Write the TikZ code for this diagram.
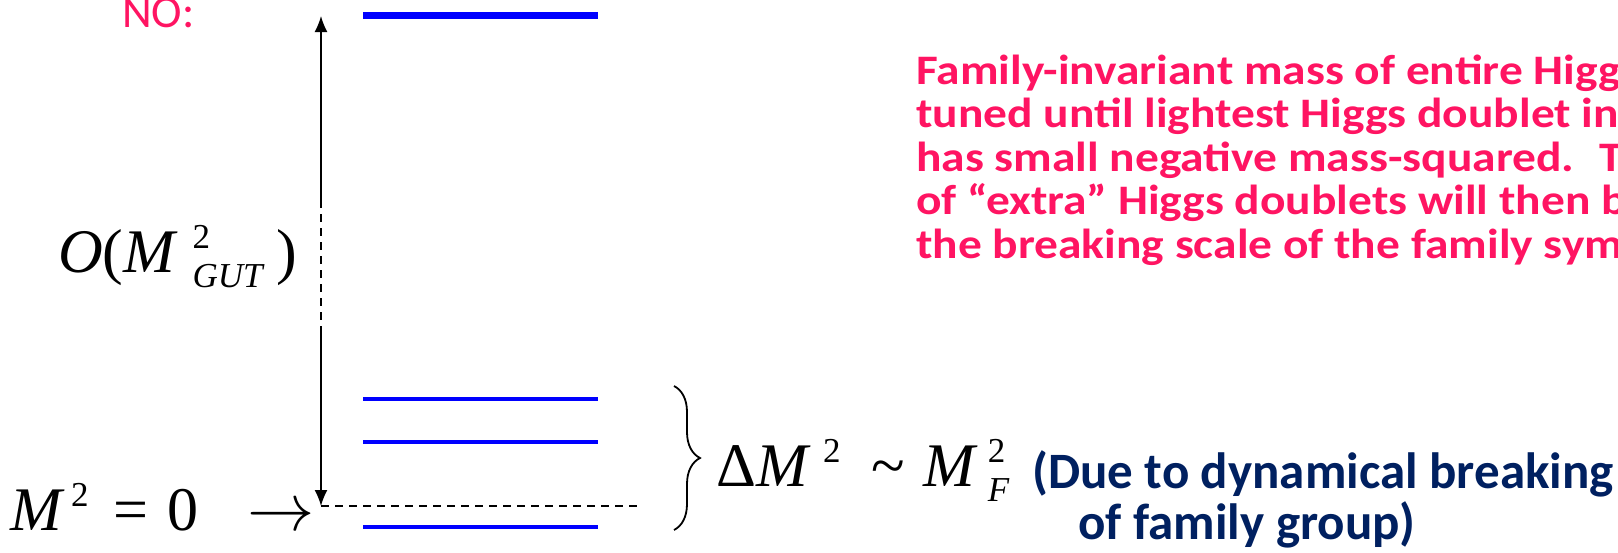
\documentclass[tikz,border=0pt]{standalone}
\usepackage{fontspec}
\setmainfont{Carlito}
\newfontfamily\eqfont{Liberation Serif}
\newfontfamily\widefont[FakeStretch=1.13]{Carlito}
\usetikzlibrary{positioning}
\usetikzlibrary{arrows.meta}
\usetikzlibrary{decorations.pathreplacing}
\definecolor{notePink}{HTML}{FF1462}
\definecolor{noteNavy}{HTML}{002060}
\definecolor{levelBlue}{HTML}{0000FF}
% scripts set the way the equation editor does: raised/lowered, small
\newcommand{\supscr}[1]{\raisebox{0.38em}{\fontsize{35}{35}\selectfont\upshape #1}}
\newcommand{\subscr}[1]{\raisebox{-0.25em}{\fontsize{35}{35}\selectfont\itshape #1}}
\newcommand{\stackscr}[2]{\rlap{\supscr{#1}}\subscr{#2}}
\newcommand{\bigto}{{\fontsize{24.88}{25}\selectfont\scalebox{2.7}{$\rightarrow$}}}
\tikzset{
    level/.style={draw=levelBlue, line width=4pt},
    gap/.style={line width=1.6pt, dash pattern=on 8pt off 6pt},
    scale arrow/.style={line width=1.6pt, -{Latex[length=16pt, width=13pt]}},
    bigeq/.style={font=\fontsize{62}{62}\selectfont\eqfont},
    pinknote/.style={text=notePink, font=\fontsize{42}{43.5}\selectfont\widefont\bfseries, align=left},
    navynote/.style={text=noteNavy, font=\fontsize{51}{52}\selectfont\bfseries}
}

\begin{document}
\begin{tikzpicture}[x=1pt, y=-1pt, inner sep=0.0 pt]
    \useasboundingbox (0,0) rectangle (1618,552);
    \clip (0,0) rectangle (1618,552);

    % mass levels
    \draw [level, line width=7pt] (363,15.5) -- (598,15.5);
    \draw [level] (363,399) -- (598,399);
    \draw [level] (363,442) -- (598,442);
    \draw [level] (363,527) -- (598,527);

    % scale arrow
    \coordinate (gutTop) at (321,16);
    \coordinate (gutZero) at (321,506);
    \coordinate (dashA) at (321,200);
    \coordinate (dashB) at (321,328);
    \coordinate (zeroEnd) at (637,506);

    \draw [scale arrow] (dashA) -- (gutTop);
    \draw [gap] (dashA) -- (dashB);
    \draw [scale arrow] (dashB) -- (gutZero);
    \draw [gap] (gutZero) -- (zeroEnd);

    \node (noLabel) [anchor=base west, text=notePink, font=\fontsize{46}{46}\selectfont] at (122,27) {NO:};

    \node (gutLabel) [bigeq, anchor=base west] at (58,272) {\itshape O\upshape(\itshape M\hspace{0.28em}\stackscr{2}{GUT}\hspace{0.22em}\upshape)};
    \node (zeroLabel) [bigeq, anchor=base west] at (10,530) {\itshape M\hspace{0.15em}\supscr{2}\hspace{0.4em}\upshape=\hspace{0.3em}0\hspace{0.8em}\bigto};

    % family splitting
    \draw [line width=1.8pt, decorate, decoration={brace, amplitude=26pt}] (674,386) -- (674,530);
    \node (splitLabel) [bigeq, anchor=base west] at (716,486) {Δ\itshape M\hspace{0.25em}\supscr{2}\hspace{0.5em}\upshape\textasciitilde\hspace{0.3em}\itshape M\hspace{0.2em}\stackscr{2}{F}};

    \node (dueBreak) [navynote, anchor=base west] at (1032,488) {(Due to dynamical breaking};
    \node (dueGroup) [navynote, anchor=base west] at ([xshift=46pt, yshift=-51pt]dueBreak.base west) {of family group)};

    \node (tuneNote) [pinknote, anchor=base west] at (916,258) {Family-invariant mass of entire Higgs\\tuned until lightest Higgs doublet in\\has small negative mass-squared.~ The\\of “extra” Higgs doublets will then be\\the breaking scale of the family symmetry};
\end{tikzpicture}
\end{document}
